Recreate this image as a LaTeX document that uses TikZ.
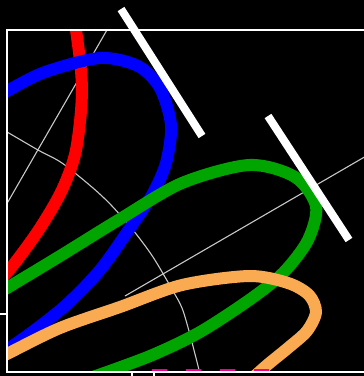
\documentclass[tikz,border=0pt]{standalone}
\usepackage{tikz}
\definecolor{orbitgreen}{RGB}{0,165,0}
\definecolor{orbitorange}{RGB}{250,170,80}
\definecolor{guidegray}{RGB}{200,200,200}
\begin{document}
\begin{tikzpicture}[x=1pt, y=-1pt, orbit/.style={line width=12pt, line join=round}, guide/.style={guidegray, line width=1.1pt}]
	\fill[black] (0,0) rectangle (364,376);
	\useasboundingbox (0,0) rectangle (364,376);
	\begin{scope}
		\clip (7,30) rectangle (370,372);
		% thin guide lines
		\draw[guide] (130,-10) -- (-10,233);
		\draw[guide] plot[smooth] coordinates {(-10,123) (7,132) (38,150) (62,163) (93,188) (112,206) (133,230) (153,257) (173,291) (182,308) (189,331) (199,370) (202,385)};
		\draw[guide] (125,296) -- (380,148);
		% orbits
		\draw[orbit, red] plot[smooth] coordinates {(66,-20) (76,30) (82,90) (76,150) (62,190) (40,228) (14,264) (-10,292)};
		\draw[orbit, blue] plot[smooth] coordinates {(-30,112) (7,91) (45,72) (100,58) (138,66) (160,88) (171,125) (166,163) (152,195) (130,228) (100,270) (66,305) (28,335) (-20,368)};
		\draw[orbit, orbitgreen] plot[smooth] coordinates {(-30,310) (7,288) (60,256) (120,219) (182,183) (249,165) (295,177) (316,206) (308,240) (284,272) (252,298) (200,332) (150,356) (90,378)};
		\draw[orbit, orbitorange] plot[smooth] coordinates {(-20,368) (7,354) (60,328) (120,307) (182,285) (249,276) (288,283) (309,295) (316,312) (307,331) (288,348) (266,366) (245,385)};
		\draw[magenta, line width=4pt, dash pattern=on 15pt off 19pt] (152,371) -- (270,371);
	\end{scope}
	% frame and ticks
	\draw[white, line width=1.3pt] (7,30) rectangle (370,372);
	\foreach \x in {132,154} {\draw[white, line width=1.3pt] (\x,372) -- (\x,376);}
	\draw[white, line width=1.3pt] (0,314) -- (7,314);
	% thick white bars
	\draw[white, line width=8pt] (121,9) -- (202,136);
	\draw[white, line width=8pt] (268,116) -- (349,240);
\end{tikzpicture}
\end{document}
